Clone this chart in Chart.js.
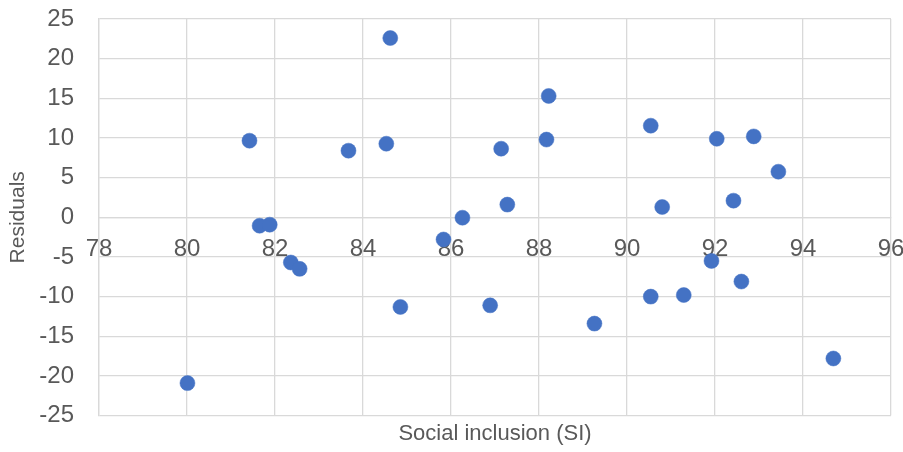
<!DOCTYPE html>
<html>
<head>
<meta charset="utf-8">
<script src="https://cdn.jsdelivr.net/npm/chart.js"></script>
<style>
  html, body { margin: 0; padding: 0; background: #fff; }
  #wrap { width: 903px; height: 452px; }
</style>
</head>
<body>
<div id="wrap"><canvas id="residuals"></canvas></div>
<script>
// 残差の散布図
var siValues = [80.01, 81.42, 81.65, 81.88, 82.36, 82.56, 83.67, 84.53, 84.62, 84.85,
                85.83, 86.26, 86.89, 87.14, 87.28, 88.17, 88.22, 89.26, 90.54, 90.54,
                90.8, 91.29, 91.92, 92.04, 92.42, 92.6, 92.88, 93.44, 94.69];
var residualValues = [-20.9, 9.66, -1.06, -0.93, -5.7, -6.5, 8.4, 9.28, 22.6, -11.3,
                      -2.8, -0.05, -11.1, 8.65, 1.6, 9.8, 15.3, -13.4, 11.55, -10.0,
                      1.3, -9.8, -5.5, 9.9, 2.1, -8.1, 10.2, 5.75, -17.8];
var xTicks = [78, 80, 82, 84, 86, 88, 90, 92, 94, 96];
var yTicks = [-25, -20, -15, -10, -5, 0, 5, 10, 15, 20, 25];

var points = siValues.map(function (v, i) {
    return { x: v, y: residualValues[i] };
});

var fontFamily = "'Liberation Sans', Arial, sans-serif";
var textColor = '#595959';
var gridColor = '#d9d9d9';

var ctx = document.getElementById("residuals");
var residualChart = new Chart(ctx, {
    type: 'scatter',
    data: {
        datasets: [{
            data: points,
            backgroundColor: '#4472C4',
            borderColor: '#4472C4',
            borderWidth: 0.5,
            pointRadius: 7.5,
            pointHoverRadius: 7.5
        }]
    },
    options: {
        responsive: true,
        maintainAspectRatio: false,
        animation: false,
        layout: {
            padding: { top: 0, right: 0, bottom: 4, left: 0 }
        },
        scales: {
            x: {
                type: 'linear',
                position: { y: 0 },
                min: 78,
                max: 96,
                afterBuildTicks: function (axis) {
                    axis.ticks = xTicks.map(function (v) { return { value: v }; });
                },
                afterFit: function (axis) {
                    // 軸ラベルのはみ出し分だけ右に余白
                    axis.paddingLeft = 0;
                    axis.paddingRight = 12;
                },
                grid: { color: gridColor, lineWidth: 1.3, drawTicks: false },
                border: { color: gridColor, width: 1.3 },
                ticks: {
                    color: textColor,
                    padding: 18,
                    maxRotation: 0,
                    font: { family: fontFamily, size: 24 }
                }
            },
            y: {
                min: -25,
                max: 25,
                afterBuildTicks: function (axis) {
                    axis.ticks = yTicks.map(function (v) { return { value: v }; });
                },
                afterFit: function (axis) {
                    axis.width = 99;
                    axis.paddingTop = 19;
                    axis.paddingBottom = 0;
                },
                grid: { color: gridColor, lineWidth: 1.3, drawTicks: false },
                border: { color: gridColor, width: 1.3 },
                ticks: {
                    color: textColor,
                    padding: 25,
                    font: { family: fontFamily, size: 24 }
                },
                title: {
                    display: true,
                    text: 'Residuals',
                    color: textColor,
                    padding: { top: 6, bottom: 8 },
                    font: { family: fontFamily, size: 21 }
                }
            }
        },
        plugins: {
            legend: false,
            tooltip: { enabled: false },
            title: {
                display: true,
                position: 'bottom',
                fullSize: false,
                text: 'Social inclusion (SI)',
                color: textColor,
                padding: { top: 5, bottom: 1 },
                font: { family: fontFamily, size: 22, weight: 'normal' }
            }
        }
    }
});
</script>
</body>
</html>
